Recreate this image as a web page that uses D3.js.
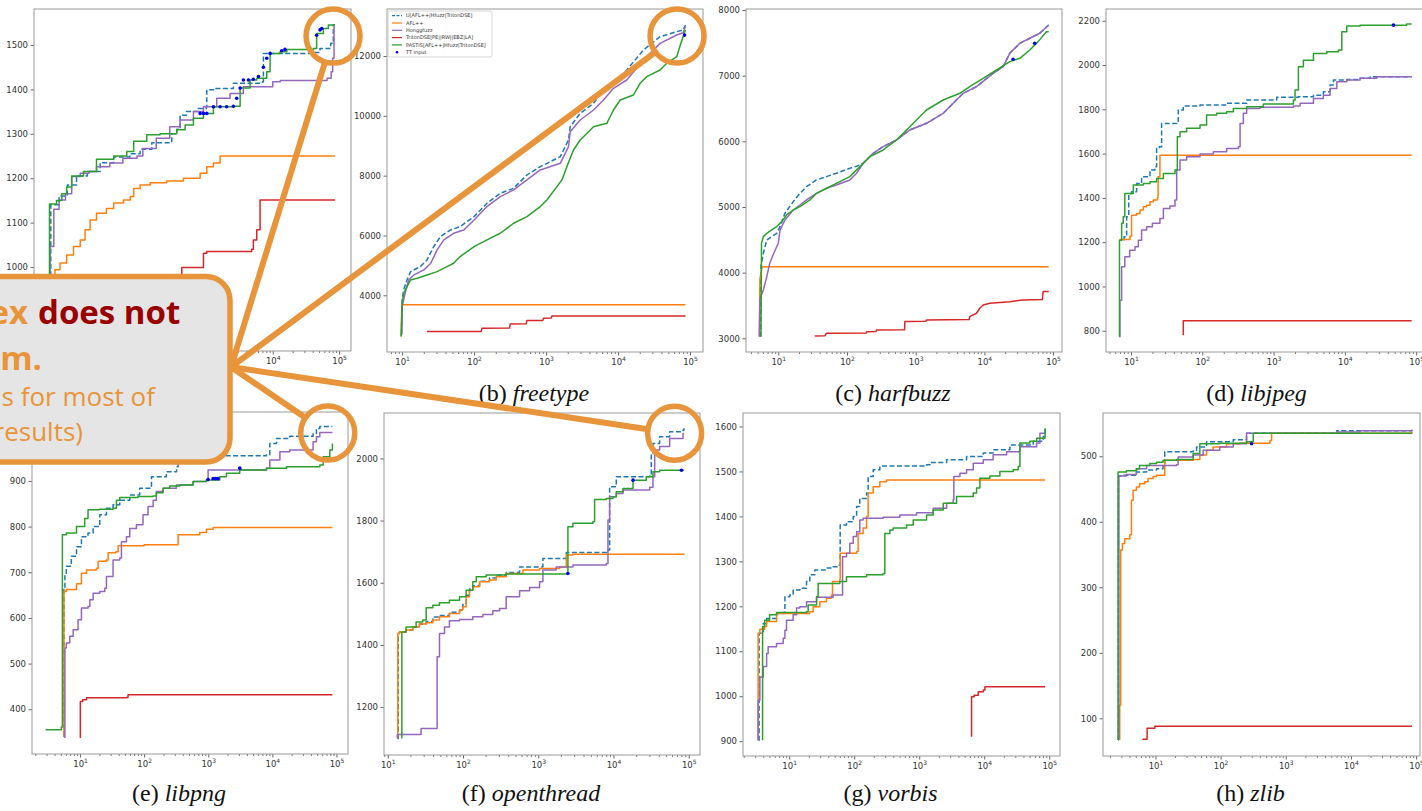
<!DOCTYPE html>
<html>
<head>
<meta charset="utf-8">
<script src="https://cdn.jsdelivr.net/npm/d3@7"></script>
<style>
  html, body { margin: 0; padding: 0; background: #fff; }
  svg { display: block; }
</style>
</head>
<body>
<div id="chart"></div>
<script>
// legend order = draw order
const seriesNames = ["U[AFL++|Hfuzz|TritonDSE]", "AFL++", "Honggfuzz", "TritonDSE[PE||RW||EBZ|LA]", "PASTIS[AFL++|Hfuzz|TritonDSE]"]
const ttName = "TT input"
const xTickExps = [1, 2, 3, 4, 5]

// (a) bloaty  -- [seconds, coverage]
const bloatyTicks = [1000, 1100, 1200, 1300, 1400, 1500]
const bloatyUnion = [[4.3,830],[4.5,1140],[6,1160],[8,1185],[11,1205],[16,1215],[25,1235],[40,1248],[70,1255],[100,1265],[150,1280],[300,1300],[357,1310],[401,1342],[500,1350],[750,1357],[1000,1362],[1012,1399],[1276,1402],[2550,1414],[7000,1417],[7230,1481],[40000,1483],[51600,1492],[75000,1504],[82000,1545],[86400,1545]]
const bloatyAfl = [[5,850],[5.2,994],[6.2,1009],[7.8,1027],[9.9,1046],[12.5,1061],[14.8,1084],[17.6,1106],[22,1121],[31,1132],[40,1144],[56,1151],[71,1159],[80,1177],[100,1185],[142,1190],[252,1194],[450,1200],[804,1211],[1012,1226],[1276,1234],[1608,1250],[86400,1250]]
const bloatyHongg = [[4.3,830],[4.4,1046],[5,1130],[6,1151],[7.5,1165],[9.3,1204],[12.5,1211],[17,1215],[22,1226],[35,1234],[55,1245],[90,1250],[110,1267],[175,1290],[280,1316],[400,1331],[637,1350],[902,1361],[1430,1380],[2270,1391],[3600,1406],[10000,1417],[13000,1420],[66000,1425],[76000,1440],[80000,1470],[84000,1545],[86400,1545]]
const bloatyTriton = [[30,950],[120,965],[250,982],[425,999],[902,1031],[1012,1035],[4820,1040],[5100,1061],[5740,1084],[6440,1151],[86400,1151]]
const bloatyPastis = [[4.3,830],[4.3,1142],[5.5,1150],[6.6,1165],[7.8,1180],[9.3,1205],[14,1215],[22,1243],[40,1250],[63,1260],[80,1283],[126,1298],[200,1300],[357,1309],[477,1320],[637,1335],[902,1346],[1276,1361],[2550,1362],[3220,1403],[4550,1421],[5740,1425],[8120,1440],[9120,1481],[12900,1485],[16300,1490],[41000,1492],[45900,1526],[58000,1537],[69000,1545],[86400,1545]]
const bloatyTT = [[804,1346],[902,1346],[1012,1346],[1276,1361],[1608,1361],[2020,1361],[2550,1362],[2860,1380],[3220,1403],[3610,1421],[4300,1421],[5100,1423],[6100,1429],[7230,1450],[8120,1470],[9120,1481],[13660,1487],[15300,1490],[45900,1522],[51600,1534],[54800,1537]]

// (b) freetype
const freetypeTicks = [4000, 6000, 8000, 10000, 12000]
const freetypeUnion = [[9.8,2700],[10,3845],[10.5,4180],[11.7,4513],[13.1,4792],[18,4960],[22.2,5183],[27.5,5628],[34,5962],[47,6185],[64,6297],[100,6631],[151,7077],[231,7410],[354,7578],[542,8023],[830,8301],[1574,8636],[2050,9193],[2163,9638],[2976,10084],[4560,10418],[6280,10864],[8640,11087],[13200,11532],[22500,12200],[38370,12646],[65300,12813],[80000,12869],[86400,13036]]
const freetypeAfl = [[9.7,2620],[9.9,3680],[86400,3680]]
const freetypeHongg = [[9.9,2700],[10,3623],[11,4068],[12.3,4513],[14.6,4681],[20,4848],[25,5071],[30.6,5517],[38,5851],[52,6074],[72,6185],[100,6520],[151,6966],[231,7299],[354,7522],[542,7856],[830,8190],[1574,8413],[2050,8970],[2163,9471],[2976,9861],[4560,10195],[6280,10530],[8640,10920],[13200,11198],[22500,11866],[38370,12423],[65300,12702],[80000,12780],[86400,12980]]
const freetypeTriton = [[22.2,2787],[125,2790],[129,2898],[310,2905],[318,3043],[530,3050],[542,3155],[900,3160],[923,3233],[1180,3240],[1205,3311],[86400,3311]]
const freetypePastis = [[9.7,2620],[10,3678],[10.5,4068],[11.7,4290],[13.1,4513],[16.2,4570],[22.2,4681],[30.6,4792],[42,4960],[52,5071],[64,5294],[100,5628],[151,5851],[231,6074],[354,6408],[542,6631],[830,6966],[1027,7188],[1413,7634],[1660,7856],[1945,8301],[2405,8858],[2976,9193],[4560,9638],[6980,9750],[8640,10195],[10690,10530],[16370,10697],[20240,11087],[25060,11310],[38370,11532],[47450,11755],[65310,11978],[72000,12312],[80000,12646],[86400,12869]]
const freetypeTT = [[84000,12700]]

// (c) harfbuzz
const harfbuzzTicks = [3000, 4000, 5000, 6000, 7000, 8000]
const harfbuzzUnion = [[5.5,3025],[5.6,4100],[6.06,4294],[6.8,4497],[8,4548],[9.5,4599],[10.6,4700],[12.5,4904],[16.5,5081],[20.7,5208],[25.8,5310],[36,5411],[50,5462],[70,5513],[110,5589],[138,5620],[172,5665],[241,5817],[337,5919],[526,6020],[822,6173],[1438,6274],[2512,6426],[3510,6579],[4910,6731],[7670,6832],[13400,7036],[18800,7137],[23400,7340],[32800,7492],[45800,7569],[64000,7645],[86400,7772]]
const harfbuzzAfl = [[5.3,3025],[5.4,3900],[5.8,4090],[86400,4090]]
const harfbuzzHongg = [[5.3,3025],[5.4,3600],[6.06,3736],[6.8,3939],[7.5,4142],[8.6,4294],[10,4447],[10.6,4650],[12.5,4802],[16.5,4954],[20.7,5030],[25.8,5107],[36,5208],[50,5284],[70,5335],[110,5411],[138,5513],[172,5665],[241,5817],[337,5919],[526,6020],[822,6173],[1438,6274],[2512,6426],[3510,6579],[4910,6731],[7670,6832],[13400,7036],[18800,7137],[23400,7340],[32800,7492],[45800,7569],[64000,7645],[86400,7772]]
const harfbuzzTriton = [[34,3036],[48,3040],[50,3076],[190,3080],[193,3100],[265,3105],[269,3127],[690,3130],[695,3254],[1400,3258],[1438,3279],[6000,3285],[6130,3330],[7670,3381],[8570,3457],[9590,3508],[12000,3533],[23400,3558],[36600,3584],[70000,3590],[71600,3711],[86400,3711]]
const harfbuzzPastis = [[5.6,3025],[5.7,4447],[6.06,4548],[6.8,4599],[8,4650],[9.5,4701],[11.2,4777],[13.2,4878],[16.5,4954],[20.7,5005],[28.9,5107],[36,5208],[45,5259],[70,5360],[110,5462],[154,5614],[215,5766],[337,5868],[526,6020],[822,6223],[1438,6477],[2512,6629],[4390,6731],[6130,6832],[9590,6959],[15000,7086],[23400,7213],[32800,7264],[45800,7391],[60600,7518],[80000,7670],[86400,7670]]
const harfbuzzTT = [[26200,7249],[54000,7492]]

// (d) libjpeg
const libjpegTicks = [800, 1000, 1200, 1400, 1600, 1800, 2000, 2200]
const libjpegUnion = [[7.9,1210],[8,1224],[8.7,1315],[9.3,1420],[10.2,1428],[12,1465],[14.1,1495],[18.5,1526],[21.7,1541],[22.9,1623],[25,1631],[26.9,1736],[44,1739],[46.1,1797],[54.2,1815],[93,1819],[220,1827],[420,1842],[1107,1854],[2230,1857],[3626,1864],[5000,1879],[6200,1910],[6920,1932],[10640,1935],[16370,1940],[22600,1947],[86400,1947]]
const libjpegAfl = [[6.9,1212],[9.7,1227],[10.2,1322],[12,1330],[13.4,1345],[14.9,1360],[16.6,1367],[18.5,1383],[20.6,1390],[23.5,1402],[24,1495],[25.5,1593],[86400,1593]]
const libjpegHongg = [[6.9,773],[7,938],[7.4,1089],[8.2,1134],[9.6,1164],[11.4,1179],[12.7,1209],[14.1,1255],[16.6,1270],[20,1285],[25.5,1307],[28.5,1352],[35.2,1363],[41.5,1390],[43.8,1526],[48.7,1571],[60.4,1586],[93,1598],[143,1608],[220,1623],[321,1631],[339,1736],[377,1782],[420,1804],[646,1809],[1897,1815],[2360,1827],[3626,1849],[5000,1864],[6200,1894],[7710,1925],[10640,1932],[16370,1940],[28100,1947],[86400,1947]]
const libjpegTriton = [[54.2,780],[54.2,845],[86400,845]]
const libjpegPastis = [[6.9,773],[6.9,1209],[7.4,1285],[7.8,1315],[8.2,1420],[10.8,1458],[14.9,1465],[18.5,1473],[22.9,1488],[28.5,1510],[41.5,1526],[44.7,1676],[48.7,1699],[60.4,1714],[93,1729],[115,1774],[159,1782],[220,1789],[273,1804],[420,1812],[719,1824],[1897,1842],[2003,1887],[2230,1992],[2620,2022],[3626,2052],[5570,2060],[8120,2068],[9060,2150],[10640,2176],[16370,2180],[73600,2185],[86400,2185]]
const libjpegTT = [[48100,2180]]

// (e) libpng
const libpngTicks = [400, 500, 600, 700, 800, 900]
const libpngUnion = [[5.6,340],[5.6,662],[5.8,698],[6.1,713],[7.3,735],[8.8,756],[10.5,778],[13.3,786],[16,800],[20.3,826],[25.8,840],[32.7,848],[41.6,858],[59.6,869],[85,884],[130,909],[222,920],[320,931],[338,939],[456,953],[653,955],[8090,957],[9120,982],[11600,993],[18700,998],[43200,1004],[48700,1015],[55000,1019],[86400,1019]]
const libpngAfl = [[5.6,340],[5.6,658],[6.1,662],[8.8,675],[10.5,698],[12.6,705],[18,709],[19.1,724],[25.8,727],[27.4,743],[36,745],[39.2,758],[100,760],[338,782],[736,787],[935,794],[1190,798],[86400,798]]
const libpngHongg = [[5.8,337],[5.8,534],[6.1,545],[6.9,560],[7.8,574],[9.3,596],[10.5,622],[13.3,625],[14.2,640],[16,654],[20.3,658],[24.3,665],[25.8,691],[32.7,727],[41.6,731],[44.2,767],[52.9,778],[59.6,796],[75.7,804],[96,826],[115,844],[138,858],[155,877],[197,884],[318,891],[580,899],[935,902],[994,924],[8090,928],[9120,946],[13100,964],[18700,968],[38400,968],[43200,986],[48700,997],[55000,1006],[86400,1006]]
const libpngTriton = [[10.1,337],[10.1,417],[11,421],[12.6,425],[52.9,426],[56,432],[86400,432]]
const libpngPastis = [[2.9,355],[5.1,361],[5.3,782],[6.1,786],[8.8,800],[11.8,818],[13.3,837],[20,838],[32.7,840],[36.9,858],[41.6,864],[80,866],[138,867],[155,874],[197,884],[251,889],[359,891],[580,899],[935,902],[1510,909],[1920,917],[3100,924],[8090,928],[16600,931],[55000,935],[62000,953],[78700,968],[86400,982]]
const libpngTT = [[994,903],[1190,905],[1300,905],[1420,905],[3100,928]]

// (f) openthread
const openthreadTicks = [1200, 1400, 1600, 1800, 2000]
const openthreadUnion = [[13.6,1099],[13.8,1437],[14.3,1442],[17.5,1448],[21.5,1458],[26.4,1467],[32.4,1475],[39.7,1490],[48.7,1495],[66,1505],[90,1512],[99.5,1530],[110,1560],[122,1580],[135,1590],[166,1605],[225,1615],[276,1625],[375,1633],[565,1651],[1153,1678],[2360,1697],[8450,1705],[8890,1909],[10900,1941],[30300,1943],[31800,2016],[33500,2048],[41100,2070],[55800,2086],[84100,2091],[86400,2097]]
const openthreadAfl = [[13.6,1099],[13.6,1437],[14.3,1442],[17.5,1448],[21.5,1458],[26.4,1467],[32.4,1471],[39.7,1480],[48.7,1491],[66,1501],[90,1512],[99.5,1523],[110,1555],[122,1576],[135,1587],[166,1603],[225,1609],[276,1619],[375,1630],[625,1641],[1042,1646],[1924,1651],[2360,1689],[2890,1692],[86400,1694]]
const openthreadHongg = [[13.4,1099],[13.4,1112],[27.7,1131],[45.3,1362],[48.7,1437],[56.8,1458],[66,1478],[90,1482],[135,1491],[184,1498],[249,1510],[306,1517],[375,1555],[565,1574],[767,1585],[1042,1603],[1153,1641],[1730,1651],[2890,1657],[8030,1662],[8450,1802],[8890,1877],[10900,1887],[13400,1898],[30300,1907],[33500,1941],[35300,2027],[41100,2038],[55800,2064],[84100,2080],[86400,2080]]
const openthreadTriton = []
const openthreadPastis = [[15.4,1099],[15.4,1442],[17.5,1458],[23.8,1474],[29.2,1480],[32.4,1520],[39.7,1528],[48.7,1536],[66,1544],[90,1555],[110,1576],[135,1603],[150,1619],[203,1625],[375,1628],[2360,1630],[2480,1780],[2890,1791],[5330,1796],[5610,1868],[8030,1871],[9850,1877],[10900,1893],[13400,1903],[18200,1930],[27300,1941],[33500,1957],[41100,1962],[86400,1962]]
const openthreadTT = [[2480,1630],[18200,1930],[80000,1962]]

// (g) vorbis
const vorbisTicks = [900, 1000, 1100, 1200, 1300, 1400, 1500, 1600]
const vorbisUnion = [[3.4,902],[3.45,1140],[4.0,1162],[4.5,1173],[6.4,1184],[8.1,1186],[8.6,1221],[10.2,1225],[11.5,1236],[14.6,1240],[18.5,1255],[20.8,1270],[24.8,1281],[37.5,1285],[47.5,1288],[58.8,1292],[60.9,1381],[76.2,1388],[96.6,1400],[109,1422],[122,1440],[155,1452],[164,1489],[196,1504],[248,1512],[1297,1515],[1459,1520],[2640,1526],[5350,1533],[9660,1541],[13700,1548],[24800,1559],[56700,1567],[80900,1578],[86400,1596]]
const vorbisAfl = [[3.33,902],[3.33,1140],[3.54,1149],[4.2,1155],[4.5,1166],[6.4,1184],[20.8,1188],[23.4,1199],[29.6,1210],[37.5,1218],[44.8,1225],[46.4,1255],[60.1,1259],[60.9,1318],[109,1322],[115,1362],[137,1374],[155,1400],[164,1452],[196,1466],[248,1477],[314,1481],[86400,1481]]
const vorbisHongg = [[3.3,902],[3.33,991],[3.54,1043],[4.0,1066],[4.5,1095],[4.75,1110],[6.4,1117],[8.1,1129],[8.6,1147],[9.1,1169],[11.5,1181],[13,1196],[14.6,1199],[18.5,1210],[26.4,1220],[47.5,1225],[66.2,1310],[76.2,1318],[85.7,1340],[96.6,1355],[109,1366],[122,1392],[137,1396],[279,1398],[504,1403],[910,1408],[1641,1418],[2640,1429],[3330,1437],[3410,1489],[4230,1496],[5350,1504],[6770,1518],[9660,1526],[13700,1537],[22100,1544],[35400,1555],[63900,1563],[71800,1585],[86400,1593]]
const vorbisTriton = [[6380,910],[6380,999],[7000,1002],[8090,1010],[9660,1014],[10240,1021],[86400,1021]]
const vorbisPastis = [[3.9,902],[3.9,1155],[4.2,1169],[5,1181],[6.4,1186],[18.5,1188],[19.6,1203],[26.4,1221],[27.9,1251],[60.1,1255],[76.2,1266],[155,1270],[279,1273],[296,1362],[354,1370],[398,1374],[638,1381],[809,1392],[1297,1403],[1641,1414],[2340,1429],[3750,1444],[6770,1452],[7620,1463],[8570,1485],[12200,1490],[17400,1500],[27900,1504],[33300,1511],[35400,1563],[50400,1567],[63900,1574],[85700,1578],[86400,1596]]
const vorbisTT = []

// (h) zlib
const zlibTicks = [100, 200, 300, 400, 500]
const zlibUnion = [[2.67,67],[2.7,470],[3.18,471],[5.1,476],[7.3,479],[10.4,481],[13.1,489],[13.9,507],[37.9,508],[42.7,514],[60.8,522],[156,525],[250,535],[5370,536],[6040,539],[86400,540]]
const zlibAfl = [[2.83,67],[2.83,120],[2.93,357],[3.11,367],[3.38,374],[4.04,380],[4.28,433],[4.54,448],[5.1,453],[5.7,458],[6.85,461],[7.7,466],[9.2,469],[10.4,471],[13.9,494],[37.9,495],[48,502],[60.8,509],[76.9,514],[123,519],[198,520],[571,524],[606,535],[86400,537]]
const zlibHongg = [[2.75,67],[2.75,470],[3.58,472],[5.1,481],[7.3,486],[21,487],[22.3,499],[37.9,502],[54,509],[97,514],[156,519],[250,535],[6040,537],[13800,539],[86400,541]]
const zlibTriton = [[6.3,68],[7.45,85],[9.8,88],[86400,88]]
const zlibPastis = [[2.67,67],[2.67,476],[3.58,478],[5.1,481],[5.7,486],[8.2,489],[10.4,491],[13.1,494],[21,495],[37.9,504],[48,519],[97,520],[250,522],[317,535],[86400,535]]
const zlibTT = [[299,519]]

// callout circles: [panel, seconds, coverage]
const calloutTargets = [["a", 81100, 1520], ["b", 66000, 12669], ["e", 73100, 1005], ["f", 65000, 2081]]

const colors = ["#1f77b4", "#ff7f0e", "#9467bd", "#d62728", "#2ca02c"]
const ttColor = "#0000ee"
const orange = "#E8943A"
const darkRed = "#990000"

const width = 1422, height = 811

const panels = [
    {key: "a", name: "bloaty", series: [bloatyUnion, bloatyAfl, bloatyHongg, bloatyTriton, bloatyPastis], tt: bloatyTT, yTicks: bloatyTicks,
        left: 34, right: 351, top: 9, bottom: 351, xExp: [0.40, 5.18], yDomain: [811, 1581], curve: d3.curveStepAfter, capY: 401},
    {key: "b", name: "freetype", series: [freetypeUnion, freetypeAfl, freetypeHongg, freetypeTriton, freetypePastis], tt: freetypeTT, yTicks: freetypeTicks,
        left: 387, right: 703, top: 9, bottom: 352, xExp: [0.79, 5.18], yDomain: [2104, 13572], curve: d3.curveLinear, capY: 401},
    {key: "c", name: "harfbuzz", series: [harfbuzzUnion, harfbuzzAfl, harfbuzzHongg, harfbuzzTriton, harfbuzzPastis], tt: harfbuzzTT, yTicks: harfbuzzTicks,
        left: 746, right: 1062, top: 9, bottom: 352, xExp: [0.53, 5.13], yDomain: [2791, 8015], curve: d3.curveLinear, capY: 401},
    {key: "d", name: "libjpeg", series: [libjpegUnion, libjpegAfl, libjpegHongg, libjpegTriton, libjpegPastis], tt: libjpegTT, yTicks: libjpegTicks,
        left: 1106, right: 1429, top: 9, bottom: 352, xExp: [0.65, 5.18], yDomain: [704, 2253], curve: d3.curveStepAfter, capY: 401},
    {key: "e", name: "libpng", series: [libpngUnion, libpngAfl, libpngHongg, libpngTriton, libpngPastis], tt: libpngTT, yTicks: libpngTicks,
        left: 32, right: 348, top: 412, bottom: 754, xExp: [0.25, 5.18], yDomain: [302, 1051], curve: d3.curveStepAfter, capY: 801},
    {key: "f", name: "openthread", series: [openthreadUnion, openthreadAfl, openthreadHongg, openthreadTriton, openthreadPastis], tt: openthreadTT, yTicks: openthreadTicks,
        left: 384, right: 700, top: 413, bottom: 755, xExp: [0.95, 5.15], yDomain: [1046, 2146], curve: d3.curveStepAfter, capY: 801},
    {key: "g", name: "vorbis", series: [vorbisUnion, vorbisAfl, vorbisHongg, vorbisTriton, vorbisPastis], tt: vorbisTT, yTicks: vorbisTicks,
        left: 743, right: 1060, top: 413, bottom: 756, xExp: [0.29, 5.165], yDomain: [867, 1630], curve: d3.curveStepAfter, capY: 801},
    {key: "h", name: "zlib", series: [zlibUnion, zlibAfl, zlibHongg, zlibTriton, zlibPastis], tt: zlibTT, yTicks: zlibTicks,
        left: 1103, right: 1420, top: 413, bottom: 756, xExp: [0.195, 5.06], yDomain: [42.5, 566], curve: d3.curveStepAfter, capY: 801}
]

const svg = d3.select("#chart").append("svg")
    .attr("width", width)
    .attr("height", height)
    .attr("viewBox", [0, 0, width, height])
    .style("font-family", "DejaVu Sans")

panels.forEach(drawPanel)
drawLegend(panels[1])
drawCallout()

function drawPanel(p) {
    const x = d3.scaleLog().domain([10 ** p.xExp[0], 10 ** p.xExp[1]]).range([p.left, p.right])
    const y = d3.scaleLinear().domain(p.yDomain).range([p.bottom, p.top])
    p.x = x
    p.y = y
    const g = svg.append("g")

    const clipId = "clip-" + p.key
    g.append("clipPath").attr("id", clipId)
        .append("rect")
        .attr("x", p.left).attr("y", p.top)
        .attr("width", p.right - p.left).attr("height", p.bottom - p.top)

    // y axis
    g.append("g")
        .attr("transform", `translate(${p.left},0)`)
        .call(d3.axisLeft(y).tickValues(p.yTicks).tickSize(3.5).tickPadding(2.5).tickFormat(d3.format("d")))
        .call(g => g.select(".domain").remove())
        .call(g => g.selectAll(".tick line").attr("stroke", "#666"))
        .call(g => g.selectAll(".tick text").attr("fill", "#333").attr("font-size", 8.5).attr("font-family", "DejaVu Sans"))

    // minor ticks on the log axis
    const [lo, hi] = x.domain()
    const minors = []
    for (let k = Math.floor(p.xExp[0]); k < Math.ceil(p.xExp[1]); k++) {
        for (let m = 2; m < 10; m++) {
            const v = m * 10 ** k
            if (v >= lo && v <= hi) minors.push(v)
        }
    }
    g.append("g")
        .attr("transform", `translate(0,${p.bottom})`)
        .call(d3.axisBottom(x).tickValues(minors).tickSize(2).tickFormat(""))
        .call(g => g.select(".domain").remove())
        .call(g => g.selectAll(".tick line").attr("stroke", "#777"))

    const majors = xTickExps.map(e => 10 ** e).filter(v => v >= lo && v <= hi * 1.0001)
    g.append("g")
        .attr("transform", `translate(0,${p.bottom})`)
        .call(d3.axisBottom(x).tickValues(majors).tickSize(3.5).tickPadding(3))
        .call(g => g.select(".domain").remove())
        .call(g => g.selectAll(".tick line").attr("stroke", "#666"))
        .call(g => {
            const t = g.selectAll(".tick text").text(null)
                .attr("fill", "#333").attr("font-size", 8.5).attr("font-family", "DejaVu Sans")
            t.append("tspan").text("10")
            t.append("tspan").attr("dy", -3.5).attr("font-size", 6).text(d => Math.round(Math.log10(d)))
        })

    // frame
    g.append("rect")
        .attr("x", p.left).attr("y", p.top)
        .attr("width", p.right - p.left).attr("height", p.bottom - p.top)
        .attr("fill", "none")
        .attr("stroke", "#999")
        .attr("stroke-width", 1)

    const line = d3.line()
        .curve(p.curve)
        .x(d => x(d[0]))
        .y(d => y(d[1]))

    const plot = g.append("g").attr("clip-path", `url(#${clipId})`)
    p.series.forEach((s, i) => {
        if (!s.length) return
        plot.append("path")
            .attr("fill", "none")
            .attr("stroke", colors[i])
            .attr("stroke-width", 1.5)
            .attr("stroke-dasharray", i === 0 ? "5,2.5" : null)
            .attr("stroke-linejoin", "round")
            .attr("d", line(s))
    })
    plot.selectAll("circle.tt")
        .data(p.tt)
        .join("circle")
        .attr("class", "tt")
        .attr("cx", d => x(d[0]))
        .attr("cy", d => y(d[1]))
        .attr("r", 1.8)
        .attr("fill", ttColor)

    // caption
    const cap = svg.append("text")
        .attr("x", (p.left + p.right) / 2 - 11)
        .attr("y", p.capY)
        .attr("text-anchor", "middle")
        .attr("font-family", "Liberation Serif")
        .attr("font-size", 24)
        .attr("fill", "#111")
    cap.append("tspan").text(`(${p.key}) `)
    cap.append("tspan").attr("font-style", "italic").text(p.name)
}

function drawLegend(p) {
    const lx = p.left + 1, ly = 11
    const g = svg.append("g")
    g.append("rect")
        .attr("x", lx).attr("y", ly)
        .attr("width", 104).attr("height", 46)
        .attr("rx", 2)
        .attr("fill", "#fff")
        .attr("stroke", "#ccc")
        .attr("stroke-width", 0.8)
    const names = seriesNames.concat([ttName])
    names.forEach((name, i) => {
        const yy = ly + 4.7 + i * 7.3
        if (i < seriesNames.length) {
            g.append("line")
                .attr("x1", lx + 4).attr("x2", lx + 14)
                .attr("y1", yy).attr("y2", yy)
                .attr("stroke", colors[i])
                .attr("stroke-width", 1.2)
                .attr("stroke-dasharray", i === 0 ? "3,1.5" : null)
        } else {
            g.append("circle").attr("cx", lx + 9).attr("cy", yy).attr("r", 1.3).attr("fill", ttColor)
        }
        g.append("text")
            .attr("x", lx + 18).attr("y", yy)
            .attr("dy", "0.35em")
            .attr("font-size", 5)
            .attr("fill", "#333")
            .text(name)
    })
}

function drawCallout() {
    const hub = [231, 367]
    const r = 27
    const g = svg.append("g")
    calloutTargets.forEach(([key, t, v]) => {
        const p = panels.find(d => d.key === key)
        const cx = p.x(t), cy = p.y(v)
        const dx = hub[0] - cx, dy = hub[1] - cy
        const len = Math.hypot(dx, dy)
        g.append("line")
            .attr("x1", hub[0]).attr("y1", hub[1])
            .attr("x2", cx + dx / len * r).attr("y2", cy + dy / len * r)
            .attr("stroke", orange)
            .attr("stroke-width", 6)
        g.append("circle")
            .attr("cx", cx).attr("cy", cy).attr("r", r)
            .attr("fill", "none")
            .attr("stroke", orange)
            .attr("stroke-width", 5.5)
    })

    g.append("rect")
        .attr("x", -40).attr("y", 276.5)
        .attr("width", 270).attr("height", 185.5)
        .attr("rx", 24)
        .attr("fill", "#e5e5e5")
        .attr("stroke", orange)
        .attr("stroke-width", 5.5)

    const txt = (x, y, s, opts) => g.append("text")
        .attr("x", x).attr("y", y)
        .attr("text-anchor", opts.anchor || "start")
        .attr("font-family", "Open Sans")
        .attr("font-weight", opts.bold ? 700 : 400)
        .attr("font-size", opts.size)
        .attr("fill", opts.color)
        .text(s)

    txt(28, 324, "ex", {anchor: "end", bold: true, size: 33, color: orange})
    txt(38, 324, "does not", {bold: true, size: 33, color: darkRed})
    txt(42, 370, "rm.", {anchor: "end", bold: true, size: 33, color: orange})
    txt(155, 406, "s for most of", {anchor: "end", size: 26, color: orange})
    txt(83, 441, "results)", {anchor: "end", size: 26, color: orange})
}
</script>
</body>
</html>
